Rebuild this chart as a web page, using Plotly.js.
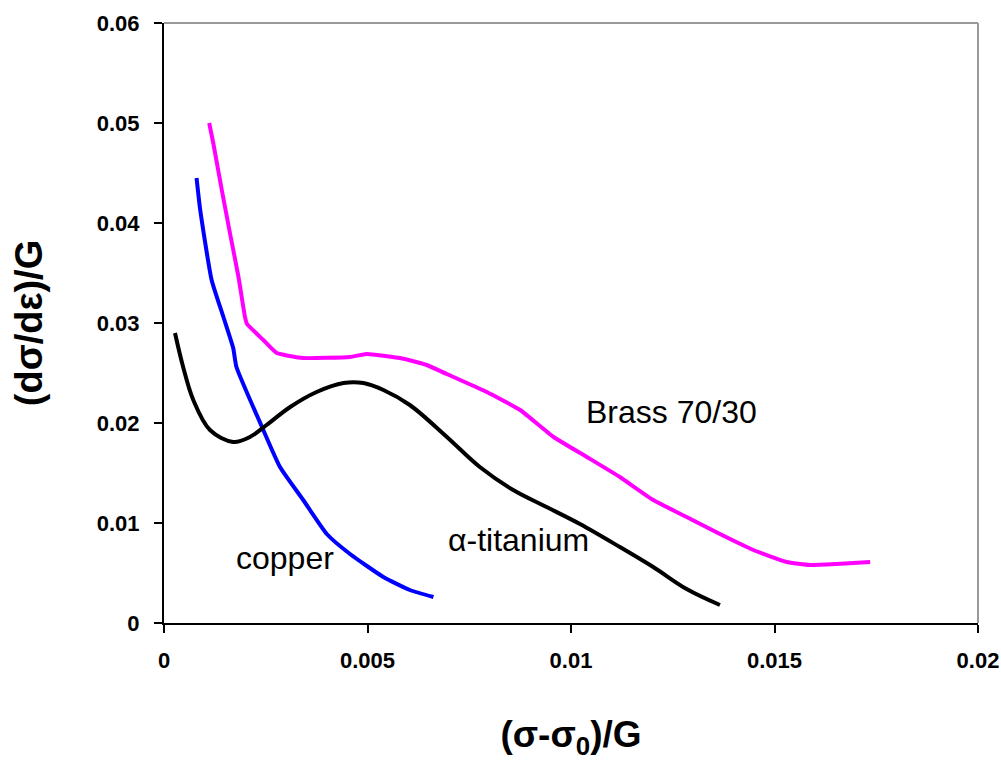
<!DOCTYPE html>
<html>
<head>
<meta charset="utf-8">
<script src="https://cdn.plot.ly/plotly-3.0.1.min.js"></script>
<style>html,body{margin:0;padding:0;background:#fff}#chart{width:1001px;height:760px}</style>
</head>
<body>
<div id="chart"></div>
<script>
// copper
var copperX = [0.00080,0.00089,0.00117,0.00146,0.00170,0.00178,0.00244,0.00285,0.00342,0.00400,0.00457,0.00539,0.00604,0.00662];
var copperY = [0.0445,0.0413,0.0343,0.0306,0.0275,0.0256,0.0193,0.0156,0.0123,0.0089,0.0069,0.0046,0.0033,0.0026];
// alpha-titanium
var titaniumX = [0.00027,0.00047,0.00072,0.00113,0.00170,0.00211,0.00252,0.00310,0.00375,0.00441,0.00490,0.00539,0.00604,0.00695,0.00776,0.00858,0.00940,0.01022,0.01120,0.01202,0.01284,0.01366];
var titaniumY = [0.0290,0.0256,0.0223,0.0193,0.0181,0.0186,0.0198,0.0216,0.0231,0.0240,0.0240,0.0233,0.0218,0.0186,0.0156,0.0133,0.0116,0.0099,0.0076,0.0056,0.0034,0.0018];
// brass 70/30
var brassX = [0.00111,0.00121,0.00142,0.00162,0.00183,0.00199,0.00204,0.00244,0.00277,0.00342,0.00457,0.00498,0.00580,0.00645,0.00711,0.00793,0.00875,0.00957,0.01039,0.01120,0.01202,0.01284,0.01366,0.01448,0.01530,0.01587,0.01653,0.01735];
var brassY = [0.0500,0.0480,0.0433,0.0390,0.0346,0.0306,0.0299,0.0283,0.0270,0.0265,0.0266,0.0269,0.0265,0.0258,0.0246,0.0231,0.0213,0.0186,0.0166,0.0146,0.0123,0.0106,0.0089,0.0073,0.0061,0.0058,0.0059,0.0061];

var xTickVals = [0, 0.005, 0.01, 0.015, 0.02];
var xTickText = ["0", "0.005", "0.01", "0.015", "0.02"];
var yTickVals = [0, 0.01, 0.02, 0.03, 0.04, 0.05, 0.06];
var yTickText = ["0", "0.01", "0.02", "0.03", "0.04", "0.05", "0.06"];

var labelNames = ["copper", "α-titanium", "Brass 70/30"];
var labelX = [0.00297, 0.00871, 0.01248];
var labelY = [0.0065, 0.0083, 0.0211];

var FONT = "'Liberation Sans', Arial, sans-serif";

var traces = [
  {x: copperX, y: copperY, mode: "lines", name: "copper", line: {color: "#0000ff", width: 4, shape: "spline", smoothing: 0.5}},
  {x: titaniumX, y: titaniumY, mode: "lines", name: "α-titanium", line: {color: "#000000", width: 4, shape: "spline", smoothing: 1}},
  {x: brassX, y: brassY, mode: "lines", name: "Brass 70/30", line: {color: "#ff00ff", width: 4, shape: "spline", smoothing: 0.4}}
];

var annotations = labelNames.map(function (t, i) {
  return {x: labelX[i], y: labelY[i], xref: "x", yref: "y", text: t, showarrow: false,
          font: {family: FONT, size: 32, color: "#000"}};
});

var layout = {
  width: 1001, height: 760,
  margin: {l: 164, r: 23, t: 23, b: 137},
  paper_bgcolor: "#fff", plot_bgcolor: "#fff",
  showlegend: false,
  font: {family: FONT, color: "#000"},
  xaxis: {
    range: [0, 0.02], tickvals: xTickVals, ticktext: xTickText,
    showgrid: false, zeroline: false, showline: true, linecolor: "#000", linewidth: 2,
    ticks: "outside", ticklen: 8, tickwidth: 2, tickcolor: "#000",
    ticklabelstandoff: 9,
    tickfont: {family: FONT, size: 22, color: "#000", weight: "bold"},
    title: {text: "(σ-σ<sub>0</sub>)/G", standoff: 49, font: {family: FONT, size: 37, color: "#000", weight: "bold"}}
  },
  yaxis: {
    range: [0, 0.06], tickvals: yTickVals, ticktext: yTickText,
    showgrid: false, zeroline: false, showline: true, linecolor: "#000", linewidth: 2,
    ticks: "outside", ticklen: 8, tickwidth: 2, tickcolor: "#000",
    ticklabelstandoff: 10,
    tickfont: {family: FONT, size: 22, color: "#000", weight: "bold"},
    title: {text: "(dσ/dε)/G", standoff: 42, font: {family: FONT, size: 38, color: "#000", weight: "bold"}}
  },
  shapes: [
    {type: "line", xref: "paper", yref: "paper", x0: 0, x1: 1, y0: 1, y1: 1, line: {color: "#999", width: 2}},
    {type: "line", xref: "paper", yref: "paper", x0: 1, x1: 1, y0: 0, y1: 1, line: {color: "#999", width: 2}}
  ],
  annotations: annotations
};

Plotly.newPlot("chart", traces, layout, {displayModeBar: false, staticPlot: true});
</script>
</body>
</html>
